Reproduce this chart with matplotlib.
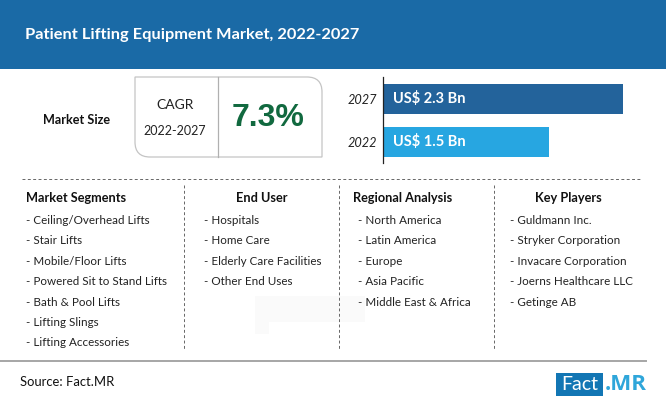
"""Patient lifting equipment market infographic, laid out in pixel coordinates."""
import matplotlib

matplotlib.use("Agg")
import matplotlib.pyplot as plt
from matplotlib.patches import PathPatch, Rectangle
from matplotlib.path import Path

TITLE = "Patient Lifting Equipment Market, 2022-2027"
YEARS = ["2022", "2027"]
MARKET_SIZE = [1.5, 2.3]
BAR_LABELS = ["US$ 1.5 Bn", "US$ 2.3 Bn"]
CAGR = "7.3%"
CAGR_PERIOD = "2022-2027"

SEGMENTS = ["Ceiling/Overhead Lifts", "Stair Lifts", "Mobile/Floor Lifts",
            "Powered Sit to Stand Lifts", "Bath & Pool Lifts", "Lifting Slings",
            "Lifting Accessories"]
END_USERS = ["Hospitals", "Home Care", "Elderly Care Facilities", "Other End Uses"]
REGIONS = ["North America", "Latin America", "Europe", "Asia Pacific",
           "Middle East & Africa"]
PLAYERS = ["Guldmann Inc.", "Stryker Corporation", "Invacare Corporation",
           "Joerns Healthcare LLC", "Getinge AB"]

BODY = "Lato"
W, H = 666, 408

fig = plt.figure(figsize=(W / 100, H / 100), dpi=100, facecolor="white")
ax = fig.add_axes((0, 0, 1, 1))
ax.set_xlim(0, W)
ax.set_ylim(H, 0)
ax.axis("off")

# Header band
ax.add_patch(Rectangle((0, 0), W, 69, color="#1a6aa6", lw=0))
ax.text(25, 34.5, TITLE, color="white", fontsize=11.75, fontweight="bold",
        family="Lato", va="center")

# Faint watermark behind the lists
ax.add_patch(Rectangle((255, 296), 110, 26, color="#fafafa", lw=0, zorder=0))
ax.add_patch(Rectangle((255, 296), 14, 38, color="#fafafa", lw=0, zorder=0))

ax.text(77, 120, "Market Size", fontsize=9.1, fontweight="bold", family=BODY,
        color="#111111", ha="center", va="center")

# CAGR box: rounded top right and bottom left corners only
r = 15
x0, x1, y0, y1 = 135, 322, 77, 157
verts = [(x0, y0), (x1 - r, y0), (x1, y0), (x1, y0 + r), (x1, y1), (x0 + r, y1),
         (x0, y1), (x0, y1 - r), (x0, y0)]
codes = [Path.MOVETO, Path.LINETO, Path.CURVE3, Path.CURVE3, Path.LINETO, Path.LINETO,
         Path.CURVE3, Path.CURVE3, Path.CLOSEPOLY]
ax.add_patch(PathPatch(Path(verts, codes), fc="white", ec="#c4c4c4", lw=0.9))
ax.plot([218, 218], [y0, y1], color="#b0b0b0", lw=0.9)
ax.text(175, 105, "CAGR", fontsize=10, family="Lato", color="#222222",
        ha="center", va="center")
ax.text(175, 131, CAGR_PERIOD, fontsize=9, family="Lato", color="#222222",
        ha="center", va="center")
ax.text(268, 118, CAGR, fontsize=23, fontweight="bold", family="Liberation Sans",
        color="#11693f", ha="center", va="center")

# Bars, on their own axes; the value scale starts below zero as in the original
bar_ax = fig.add_axes((383 / W, 1 - 163 / H, 260 / W, 86 / H))
x_min = -0.294
bar_ax.set_xlim(x_min, x_min + 260 / 92.5)
bar_ax.set_ylim(-0.49, 1.51)
bar_ax.patch.set_alpha(0)
ypos = range(len(YEARS))
bars = bar_ax.barh(ypos, [v - x_min for v in MARKET_SIZE], left=x_min, height=0.7,
                   color=["#27a6e1", "#23639b"])
for bar, label in zip(bars, BAR_LABELS):
    bar_ax.text(x_min + 0.11, bar.get_y() + bar.get_height() / 2, label, color="white",
                fontsize=10.5, fontweight="bold", family="Lato", va="center")
bar_ax.set_yticks(list(ypos), YEARS, fontsize=9.2, family="Lato", style="italic",
                  color="#222222")
bar_ax.set_xticks([])
bar_ax.tick_params(axis="y", length=0, pad=4.5)
for side in ("top", "right", "bottom"):
    bar_ax.spines[side].set_visible(False)
bar_ax.spines["left"].set_color("#222222")
bar_ax.spines["left"].set_linewidth(0.9)

# Dashed dividers
dash = (0, (3, 2.5))
ax.plot([22, 642], [179, 179], color="#666666", lw=0.7, ls=dash)
for x in (184, 339, 494):
    ax.plot([x, x], [185, 350], color="#666666", lw=0.7, ls=dash)

# List columns: (heading, heading centre, list left edge, items)
COLUMNS = [
    ("Market Segments", 76.5, 26, SEGMENTS),
    ("End User", 262, 204, END_USERS),
    ("Regional Analysis", 403, 358, REGIONS),
    ("Key Players", 568, 510, PLAYERS),
]
ROW_STEP = 20.4
for heading, centre, left, items in COLUMNS:
    ax.text(centre, 198, heading, fontsize=9.15, fontweight="bold", family=BODY,
            color="#111111", ha="center", va="center")
    for i, item in enumerate(items):
        ax.text(left, 220.5 + i * ROW_STEP, f"- {item}", fontsize=8.4, family=BODY,
                color="#222222", va="center")

# Footer
ax.plot([0, 646], [361, 361], color="#a6a6a6", lw=1.4)
ax.text(20, 382, "Source: Fact.MR", fontsize=9.4, family=BODY, color="#111111",
        va="center")
ax.add_patch(Rectangle((556, 373), 47, 23, color="#1276b4", lw=0))
ax.text(579.5, 384, "Fact", fontsize=14, family="Lato", color="white",
        ha="center", va="center")
ax.text(605, 384, ".MR", fontsize=16, fontweight="bold", family="Open Sans",
        color="#2fa6da", va="center")

fig.savefig("out.png", dpi=100)
